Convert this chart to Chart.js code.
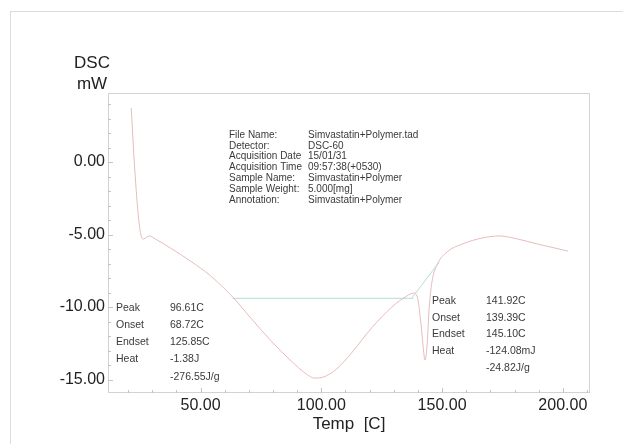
<!DOCTYPE html>
<html>
<head>
<meta charset="utf-8">
<script src="https://cdn.jsdelivr.net/npm/chart.js@4/dist/chart.umd.min.js"></script>
<style>
  body { margin: 0; background: #fff; }
  #wrap { position: relative; width: 623px; height: 444px; }
  #frame { position: absolute; left: 10px; top: 11px; width: 640px; height: 460px; border: 1px solid #dcdcdc; }
  canvas { position: absolute; left: 0; top: 0; }
</style>
</head>
<body>
<div id="wrap">
  <div id="frame"></div>
  <canvas id="dsc" width="623" height="444"></canvas>
</div>
<script>
// DSC curve (Temp C, mW)
const temps = [21.3, 22.5, 24.2, 25.4, 26.3, 28.8, 31.3, 37.5, 45.8, 54.2, 63.3, 70.8, 79.2, 87.5, 93.8, 97.1, 100.8, 106.3, 112.5, 120.8, 129.2, 135.4, 138.3, 140.0, 141.3, 142.1, 142.9, 143.8, 144.6, 145.8, 147.9, 152.1, 158.3, 166.7, 173.8, 181.3, 189.6, 202.1];
const dscValues = [3.72, 0.14, -3.66, -5.10, -5.31, -5.10, -5.31, -5.93, -6.83, -7.86, -9.31, -10.76, -12.34, -13.72, -14.62, -14.90, -14.83, -14.28, -13.17, -11.45, -10.00, -9.24, -9.03, -9.50, -11.24, -12.62, -13.66, -12.62, -10.20, -8.28, -7.10, -6.20, -5.66, -5.24, -5.10, -5.31, -5.66, -6.14];

// baseline and tangent lines of the analysis
const baselineTemps = [63.3, 138.0];
const baselineValues = [-9.4, -9.4];
const tangentTemps = [137.5, 148.8];
const tangentValues = [-9.38, -6.9];

const xLabels = [50, 100, 150, 200];
const yLabels = [0, -5, -10, -15];

const infoKeys = ['File Name:', 'Detector:', 'Acquisition Date', 'Acquisition Time', 'Sample Name:', 'Sample Weight:', 'Annotation:'];
const infoValues = ['Simvastatin+Polymer.tad', 'DSC-60', '15/01/31', '09:57:38(+0530)', 'Simvastatin+Polymer', '5.000[mg]', 'Simvastatin+Polymer'];
const peak1Keys = ['Peak', 'Onset', 'Endset', 'Heat', ''];
const peak1Values = ['96.61C', '68.72C', '125.85C', '-1.38J', '-276.55J/g'];
const peak2Keys = ['Peak', 'Onset', 'Endset', 'Heat', ''];
const peak2Values = ['141.92C', '139.39C', '145.10C', '-124.08mJ', '-24.82J/g'];

const pts = (xs, ys) => xs.map((x, i) => ({ x: x, y: ys[i] }));

const font = "'Liberation Sans', Arial, sans-serif";

const decor = {
  id: 'decor',
  afterDraw(chart) {
    const ctx = chart.ctx;
    const a = chart.chartArea;
    const xs = chart.scales.x, ys = chart.scales.y;
    ctx.save();
    // box
    ctx.strokeStyle = '#d2d2d2';
    ctx.lineWidth = 1;
    ctx.strokeRect(a.left + 0.5, a.top + 0.5, a.right - a.left - 1, a.bottom - a.top - 1);
    // inward ticks
    ctx.strokeStyle = '#c4c4c4';
    ctx.beginPath();
    for (let v = 20; v <= 210; v += 10) {
      const px = Math.round(xs.getPixelForValue(v)) + 0.5;
      const len = v % 50 === 0 ? 5 : 3;
      ctx.moveTo(px, a.bottom); ctx.lineTo(px, a.bottom - len);
    }
    for (let v = -15; v <= 4; v += 1) {
      const py = Math.round(ys.getPixelForValue(v)) + 0.5;
      const len = v % 5 === 0 ? 5 : 3;
      ctx.moveTo(a.left, py); ctx.lineTo(a.left + len, py);
    }
    ctx.stroke();
    // y-axis title
    ctx.fillStyle = '#222';
    ctx.font = '17px ' + font;
    ctx.textAlign = 'center';
    ctx.textBaseline = 'middle';
    ctx.fillText('DSC', 92, 63);
    ctx.fillText('mW', 92, 84);
    // info block
    ctx.fillStyle = '#3a3a3a';
    ctx.font = '10px ' + font;
    ctx.textAlign = 'left';
    infoKeys.forEach((k, i) => {
      ctx.fillText(k, 229, 135 + i * 10.8);
      ctx.fillText(infoValues[i], 308, 135 + i * 10.8);
    });
    ctx.font = '10.5px ' + font;
    peak1Keys.forEach((k, i) => {
      ctx.fillText(k, 116, 308 + i * 17.2);
      ctx.fillText(peak1Values[i], 170, 308 + i * 17.2);
    });
    peak2Keys.forEach((k, i) => {
      ctx.fillText(k, 432, 301 + i * 16.8);
      ctx.fillText(peak2Values[i], 486, 301 + i * 16.8);
    });
    ctx.restore();
  }
};

new Chart(document.getElementById('dsc'), {
  type: 'scatter',
  data: {
    datasets: [
      {
        data: pts(temps, dscValues),
        showLine: true,
        borderColor: '#e6bcbc',
        borderWidth: 1,
        pointRadius: 0,
        cubicInterpolationMode: 'monotone',
        clip: false
      },
      {
        data: pts(baselineTemps, baselineValues),
        showLine: true,
        borderColor: '#b5ddd6',
        borderWidth: 1,
        pointRadius: 0
      },
      {
        data: pts(tangentTemps, tangentValues),
        showLine: true,
        borderColor: '#b5ddd6',
        borderWidth: 1,
        pointRadius: 0
      }
    ]
  },
  options: {
    responsive: false,
    animation: false,
    layout: { padding: { left: 0, right: 33, top: 93, bottom: 9 } },
    plugins: { legend: { display: false }, tooltip: { enabled: false } },
    scales: {
      x: {
        type: 'linear',
        min: 11.67,
        max: 211.25,
        afterFit: (s) => { s.height = 42; },
        afterBuildTicks: (s) => { s.ticks = xLabels.map(v => ({ value: v })); },
        grid: { display: false },
        border: { display: false },
        ticks: {
          color: '#222',
          font: { family: font, size: 16 },
          padding: -5,
          maxRotation: 0,
          callback: (v) => v.toFixed(2)
        },
        title: {
          display: true,
          text: 'Temp  [C]',
          color: '#222',
          font: { family: font, size: 17 },
          padding: { top: 0, bottom: 0 }
        }
      },
      y: {
        min: -15.93,
        max: 4.76,
        afterFit: (s) => { s.width = 108; },
        afterBuildTicks: (s) => { s.ticks = yLabels.map(v => ({ value: v })); },
        grid: { display: false },
        border: { display: false },
        ticks: {
          color: '#222',
          font: { family: font, size: 16 },
          padding: -5,
          callback: (v) => v.toFixed(2)
        }
      }
    }
  },
  plugins: [decor]
});
</script>
</body>
</html>
